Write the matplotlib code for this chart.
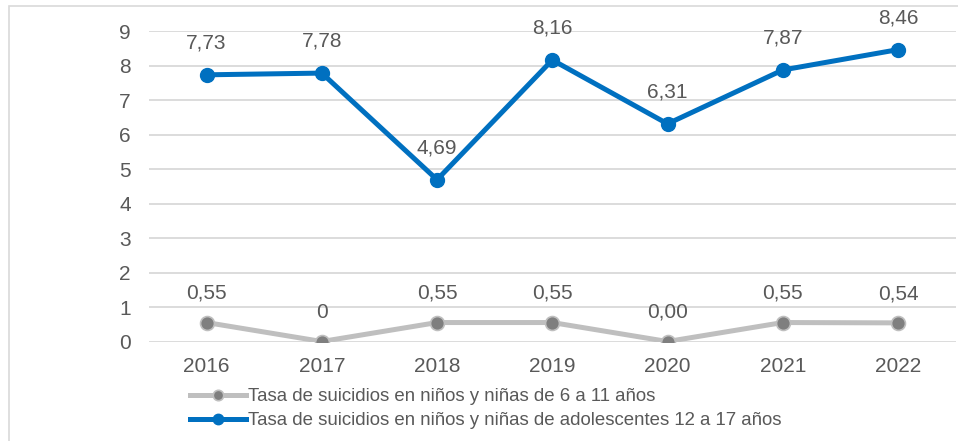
import matplotlib.pyplot as plt
from matplotlib.patches import Rectangle

# Data
years = ['2016', '2017', '2018', '2019', '2020', '2021', '2022']
tasa_6_11 = [0.55, 0.0, 0.55, 0.55, 0.0, 0.55, 0.54]
labels_6_11 = ['0,55', '0', '0,55', '0,55', '0,00', '0,55', '0,54']
tasa_12_17 = [7.73, 7.78, 4.69, 8.16, 6.31, 7.87, 8.46]
labels_12_17 = ['7,73', '7,78', '4,69', '8,16', '6,31', '7,87', '8,46']
yticks = [0, 1, 2, 3, 4, 5, 6, 7, 8, 9]

plt.rcParams['font.family'] = ['Liberation Sans', 'DejaVu Sans']
txt_color = '#595959'
grid_color = '#D9D9D9'

fig = plt.figure(figsize=(9.58, 4.41), dpi=100)
ax = fig.add_axes([0.1555, 0.2256, 0.842, 0.7041])

x = list(range(len(years)))
ax.plot(x, tasa_6_11, color='#BFBFBF', linewidth=3.6, marker='o', markersize=10,
        markerfacecolor='#7F7F7F', markeredgecolor='#BFBFBF', markeredgewidth=1.2,
        label='Tasa de suicidios en niños y niñas de 6 a 11 años', zorder=3)
ax.plot(x, tasa_12_17, color='#0070C0', linewidth=3.6, marker='o', markersize=10,
        markerfacecolor='#0070C0', markeredgecolor='#0070C0',
        label='Tasa de suicidios en niños y niñas de adolescentes 12 a 17 años', zorder=4)

for xi, v, s in zip(x, tasa_6_11, labels_6_11):
    ax.annotate(s, (xi, v), xytext=(0, 21), textcoords='offset points',
                ha='center', va='center', fontsize=15, color=txt_color)
for xi, v, s in zip(x, tasa_12_17, labels_12_17):
    ax.annotate(s, (xi, v), xytext=(0, 23), textcoords='offset points',
                ha='center', va='center', fontsize=15, color=txt_color)

ax.set_xlim(-0.5, len(years) - 0.5)
ax.set_ylim(0, 9)
ax.set_xticks(x)
ax.set_xticklabels(years)
ax.set_yticks(yticks)
ax.tick_params(axis='both', length=0, labelsize=15, labelcolor=txt_color)
ax.tick_params(axis='y', pad=13)
ax.tick_params(axis='x', pad=11)
ax.grid(axis='y', color=grid_color, linewidth=1.3, zorder=0)
ax.set_axisbelow(True)
for sp in ax.spines.values():
    sp.set_visible(False)

fig.legend(loc='upper left', bbox_to_anchor=(0.198, 0.12), frameon=False,
           fontsize=13.4, labelcolor=txt_color, handlelength=3.0, handletextpad=0.15,
           labelspacing=0.38, borderpad=0, borderaxespad=0, markerscale=0.75)

# outer chart border
fig.patches.append(Rectangle((8.5 / 958, -0.1), 1.2, 1.1 - 5.5 / 441, transform=fig.transFigure,
                             fill=False, edgecolor=grid_color, linewidth=1.2))

fig.savefig('out.png', dpi=100)
